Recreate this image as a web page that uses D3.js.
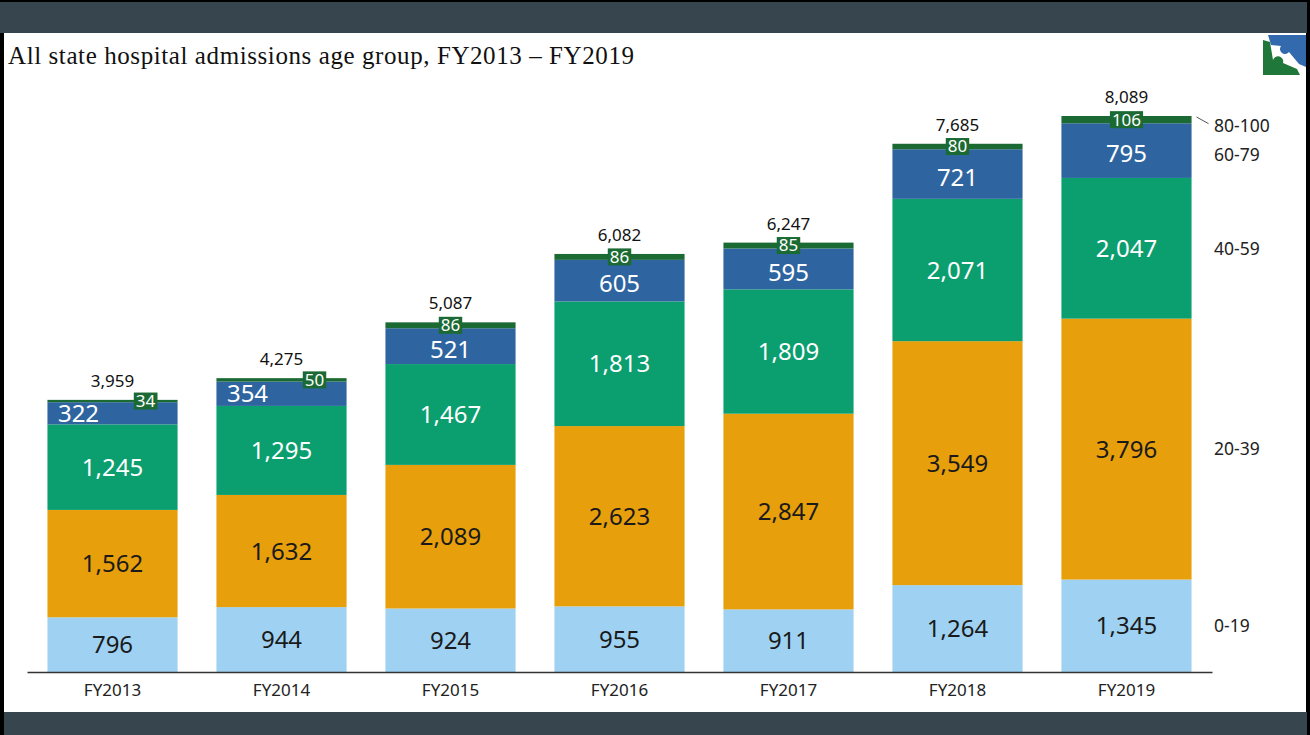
<!DOCTYPE html>
<html lang="en">
<head>
  <meta charset="UTF-8">
  <title>State hospital admissions by age group</title>
  <script src="https://d3js.org/d3.v7.min.js"></script>
  <style>
    html, body { margin: 0; padding: 0; background: #000; }
    svg { display: block; }
  </style>
</head>
<body>
  <div class="canvas"></div>
  <script>
    const years = ['FY2013', 'FY2014', 'FY2015', 'FY2016', 'FY2017', 'FY2018', 'FY2019'];
    const groups = ['0-19', '20-39', '40-59', '60-79', '80-100'];
    const age0to19 = [796, 944, 924, 955, 911, 1264, 1345];
    const age20to39 = [1562, 1632, 2089, 2623, 2847, 3549, 3796];
    const age40to59 = [1245, 1295, 1467, 1813, 1809, 2071, 2047];
    const age60to79 = [322, 354, 521, 605, 595, 721, 795];
    const age80to100 = [34, 50, 86, 86, 85, 80, 106];
    const totals = [3959, 4275, 5087, 6082, 6247, 7685, 8089];

    const colors = ['#9fd2f2', '#e79f0c', '#0b9e6f', '#2e65a0', '#1b6a34'];
    const labelColors = ['#1a1a1a', '#1a1a1a', '#ffffff', '#ffffff', '#ffffff'];

    const width = 1310;
    const height = 735;
    const baseY = 672;

    const svg = d3.select('.canvas')
      .append('svg')
      .attr('width', width)
      .attr('height', height)

    // frame: dark bands top and bottom, white panel
    svg.append('rect').attr('x', 0).attr('y', 0).attr('width', width).attr('height', height).attr('fill', '#000')
    svg.append('rect').attr('x', 0).attr('y', 2).attr('width', 1307).attr('height', 31).attr('fill', '#37464e')
    svg.append('rect').attr('x', 4).attr('y', 712).attr('width', 1303).attr('height', 23).attr('fill', '#37464e')
    svg.append('rect').attr('x', 4).attr('y', 33).attr('width', 1302).attr('height', 679).attr('fill', '#fff')

    svg.append('text')
      .attr('x', 8)
      .attr('y', 64)
      .attr('font-family', "Georgia, 'Liberation Serif', 'DejaVu Serif', serif")
      .attr('font-size', 25)
      .attr('textLength', 626)
      .attr('lengthAdjust', 'spacing')
      .attr('fill', '#111')
      .text('All state hospital admissions age group, FY2013 \u2013 FY2019')

    // logo
    const logo = svg.append('g')
    logo.append('path')
      .attr('d', 'M1268,35 L1306,35 L1306,67 L1299,64 L1289,52 A5,5 0 0 1 1281,46 L1271,45 Z')
      .attr('fill', '#3369ad')
    logo.append('path')
      .attr('d', 'M1263,40 L1270,42 L1273,60 A5,5 0 0 1 1283,63 L1297,69 L1300,75 L1263,75 Z')
      .attr('fill', '#1f773a')

    const series = [age0to19, age20to39, age40to59, age60to79, age80to100];
    const rows = years.map((yr, j) => {
      const row = { year: yr, total: totals[j] };
      groups.forEach((g, i) => { row[g] = series[i][j]; });
      return row;
    });

    const stack = d3.stack().keys(groups)(rows);

    const x = d3.scaleBand()
      .domain(years)
      .range([27, 1212])
      .paddingInner(0.23)
      .paddingOuter(0.121)

    const y = d3.scaleLinear()
      .domain([0, 8089])
      .range([baseY, 116])

    const font = "'Noto Sans', 'Open Sans', sans-serif";

    const layers = svg.selectAll('g.layer')
      .data(stack)
      .enter()
      .append('g')
      .attr('class', 'layer')
      .attr('fill', (d, i) => colors[i])

    layers.selectAll('rect')
      .data(d => d)
      .enter()
      .append('rect')
      .attr('x', d => x(d.data.year))
      .attr('y', d => y(d[1]))
      .attr('width', x.bandwidth())
      .attr('height', d => y(d[0]) - y(d[1]))

    // thin 60-79 segments push their labels aside
    const isThin = d => (y(d[0]) - y(d[1])) < 30;

    // value labels for groups 0-19 .. 60-79
    stack.slice(0, 4).forEach((layer, i) => {
      svg.selectAll(null)
        .data(layer)
        .enter()
        .append('text')
        .attr('x', d => x(d.data.year) + x.bandwidth() / 2 + (i === 3 && isThin(d) ? -34 : 0))
        .attr('y', d => (y(d[0]) + y(d[1])) / 2 + (i === 3 && !isThin(d) ? 3 : 0))
        .attr('dy', '0.36em')
        .attr('text-anchor', 'middle')
        .attr('font-family', font)
        .attr('font-size', 24)
        .attr('fill', labelColors[i])
        .text(d => d3.format(',')(d[1] - d[0]))
    });

    // 80-100 boxed labels
    const topLayer = stack[4];
    const belowLayer = stack[3];
    const boxes = svg.selectAll('g.box')
      .data(topLayer)
      .enter()
      .append('g')
      .attr('class', 'box')
      .attr('transform', (d, j) => {
        const cx = x(d.data.year) + x.bandwidth() / 2 + (isThin(belowLayer[j]) ? 33 : 0);
        const cy = (y(d[0]) + y(d[1])) / 2;
        return `translate(${cx},${cy})`;
      })

    boxes.append('text')
      .attr('text-anchor', 'middle')
      .attr('dy', '0.35em')
      .attr('font-family', font)
      .attr('font-size', 17)
      .attr('fill', '#fff')
      .text(d => d[1] - d[0])
      .each(function () {
        const b = this.getBBox();
        d3.select(this.parentNode).insert('rect', 'text')
          .attr('x', b.x - 2)
          .attr('y', -8.5)
          .attr('width', b.width + 4)
          .attr('height', 17)
          .attr('fill', colors[4])
      })

    // totals
    svg.selectAll('text.total')
      .data(rows)
      .enter()
      .append('text')
      .attr('class', 'total')
      .attr('x', d => x(d.year) + x.bandwidth() / 2)
      .attr('y', d => y(d.total) - 13)
      .attr('text-anchor', 'middle')
      .attr('font-family', font)
      .attr('font-size', 17)
      .attr('fill', '#111')
      .text(d => d3.format(',')(d.total))

    // x axis
    const axis = svg.append('g')
      .attr('transform', `translate(0,${baseY})`)
      .call(d3.axisBottom(x).tickSize(0).tickSizeOuter(0).tickPadding(12))
    axis.select('.domain').attr('stroke', '#333').attr('stroke-width', 1.5)
    axis.selectAll('text')
      .attr('font-family', font)
      .attr('font-size', 17)
      .attr('fill', '#222')

    // right-hand legend next to the last bar
    const last = years.length - 1;
    const legendY = stack.map(layer => (y(layer[last][0]) + y(layer[last][1])) / 2);
    legendY[3] += 4;
    legendY[4] += 6;
    svg.selectAll('text.legend')
      .data(groups)
      .enter()
      .append('text')
      .attr('class', 'legend')
      .attr('x', 1214)
      .attr('y', (d, i) => legendY[i])
      .attr('dy', '0.36em')
      .attr('font-family', font)
      .attr('font-size', 17.5)
      .attr('fill', '#222')
      .text(d => d)

    const lastRight = x(years[last]) + x.bandwidth();
    svg.append('line')
      .attr('x1', lastRight + 5)
      .attr('y1', y(totals[last]) + 1)
      .attr('x2', lastRight + 17)
      .attr('y2', legendY[4] - 2)
      .attr('stroke', '#555')
      .attr('stroke-width', 1)
  </script>
</body>
</html>
